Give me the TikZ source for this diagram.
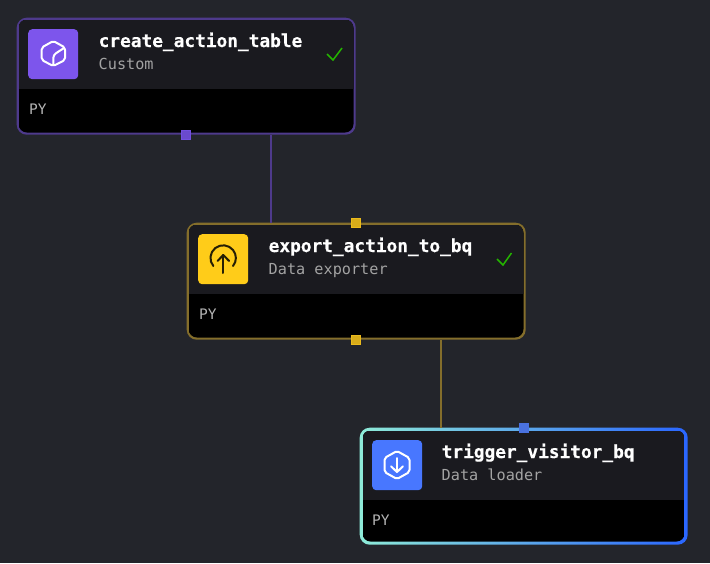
\documentclass[tikz,border=0pt]{standalone}
\usepackage{fontspec}
\setmonofont[BoldFeatures={FakeBold=0.35}]{DejaVu Sans Mono}
\usetikzlibrary{calc}
\definecolor{bgc}{HTML}{23252B}
\definecolor{headc}{HTML}{1A1A1F}
\definecolor{subc}{HTML}{A3A3A3}
\definecolor{pyc}{HTML}{B4B4B4}
\definecolor{purp}{HTML}{7D55EC}
\definecolor{purpb}{HTML}{4E3A8C}
\definecolor{purpp}{HTML}{7350E0}
\definecolor{yel}{HTML}{FFCC19}
\definecolor{yelb}{HTML}{846E2B}
\definecolor{yelp}{HTML}{EBBB1C}
\definecolor{blu}{HTML}{4877FF}
\definecolor{blup}{HTML}{4A72E0}
\definecolor{okc}{HTML}{24B400}
\definecolor{tealc}{HTML}{8EEBD8}
\definecolor{bluer}{HTML}{2A66FF}
\tikzset{
  cardbox/.style={draw=none,rounded corners=10pt,inner sep=0pt,anchor=north west},
  iconbox/.style={rounded corners=4pt,minimum width=50pt,minimum height=50pt,inner sep=0pt,anchor=north west},
  titletext/.style={anchor=base west,inner sep=0pt,text=white,font=\ttfamily\bfseries\fontsize{17.8}{20}\selectfont},
  subtext/.style={anchor=base west,inner sep=0pt,text=subc,font=\ttfamily\fontsize{15.2}{18}\selectfont},
  pytext/.style={anchor=base west,inner sep=0pt,text=pyc,font=\ttfamily\fontsize{14.5}{18}\selectfont},
  portbox/.style={minimum width=9pt,minimum height=9pt,inner sep=0pt,draw,line width=1pt},
  edgeline/.style={line width=2.4pt},
  checkline/.style={draw=okc,line width=1.5pt},
  glyph/.style={line width=2pt,line join=round,line cap=round}
}
\begin{document}
\begin{tikzpicture}[x=1pt,y=-1pt]
\useasboundingbox (0,0) rectangle (710,563);
\fill[bgc] (0,0) rectangle (710,563);

% cards (outer borders)
\node[cardbox,fill=purpb,minimum width=339pt,minimum height=117pt] (c1) at (16.5,17.5) {};
\node[cardbox,fill=yelb,minimum width=339pt,minimum height=117pt] (c2) at (186.5,222.5) {};
\node[cardbox,left color=tealc,right color=bluer,minimum width=328pt,minimum height=117pt] (c3) at (359.5,427.5) {};

% connectors
\draw[edgeline,draw=purpb] ($(c1.south)+(85,0)$) -- ($(c2.north)+(-85,0)$);
\draw[edgeline,draw=yelb] ($(c2.south)+(85,0)$) -- ($(c3.north)+(-82.5,0)$);

% card 1 inside
\begin{scope}
\clip[rounded corners=8.5pt] (18.5,19.5) rectangle (353.5,132.5);
\fill[black] (18.5,19.5) rectangle (353.5,132.5);
\fill[headc] (18.5,19.5) rectangle (353.5,89);
\end{scope}
% card 2 inside
\begin{scope}
\clip[rounded corners=8.5pt] (188.5,224.5) rectangle (523.5,337.5);
\fill[black] (188.5,224.5) rectangle (523.5,337.5);
\fill[headc] (188.5,224.5) rectangle (523.5,294);
\end{scope}
% card 3 inside
\begin{scope}
\clip[rounded corners=8pt] (362.5,430.5) rectangle (684.5,541.5);
\fill[black] (362.5,430.5) rectangle (684.5,541.5);
\fill[headc] (362.5,430.5) rectangle (684.5,500);
\end{scope}

% icons
\node[iconbox,fill=purp] (i1) at (28,29) {};
\node[iconbox,fill=yel] (i2) at (198,234) {};
\node[iconbox,fill=blu] (i3) at (372,440) {};

% cube glyph
\draw[glyph,white,rounded corners=2pt] (53.3,41) -- (65,47.5) -- (65,60) -- (53.3,66) -- (41.7,60) -- (41.7,47.5) -- cycle;
\draw[glyph,white,rounded corners=3pt] (53.3,65) -- (53.3,55) -- (64,48);
% upload glyph
\draw[glyph,black!85!yel] (213.3,266) arc[start angle=219,end angle=-39,radius=12.7pt];
\draw[glyph,black!85!yel] (223.3,273) -- (223.3,255);
\draw[glyph,black!85!yel] (217.5,261) -- (223.3,255) -- (229.1,261);
% download glyph
\draw[glyph,white,rounded corners=2pt] (397,451) -- (409.5,458) -- (409.5,472) -- (397,479) -- (384.5,472) -- (384.5,458) -- cycle;
\draw[glyph,white] (397,458) -- (397,472);
\draw[glyph,white] (391,466.3) -- (397,472) -- (403,466.3);

% text
\node[titletext] (t1) at (98.5,47) {create\_action\_table};
\node[subtext] (s1) at (98.5,69) {Custom};
\node[pytext] (p1) at (29,114) {PY};
\node[titletext] (t2) at (268.5,252) {export\_action\_to\_bq};
\node[subtext] (s2) at (268.5,274.5) {Data exporter};
\node[pytext] (p2) at (199,319) {PY};
\node[titletext] (t3) at (441.5,458) {trigger\_visitor\_bq};
\node[subtext] (s3) at (441.5,480.5) {Data loader};
\node[pytext] (p3) at (372,525) {PY};

% checks
\draw[checkline] (327,54) -- (333,60) -- (342,48);
\draw[checkline] (497,259) -- (503,265) -- (511.5,253);

% ports
\node[portbox,draw=purpp,fill=purpp!92!black] (q1) at (c1.south) {};
\node[portbox,draw=yelp,fill=yelp!92!black] (q2) at (c2.north) {};
\node[portbox,draw=yelp,fill=yelp!92!black] (q3) at (c2.south) {};
\node[portbox,draw=blup,fill=blup] (q4) at (c3.north) {};
\end{tikzpicture}
\end{document}
